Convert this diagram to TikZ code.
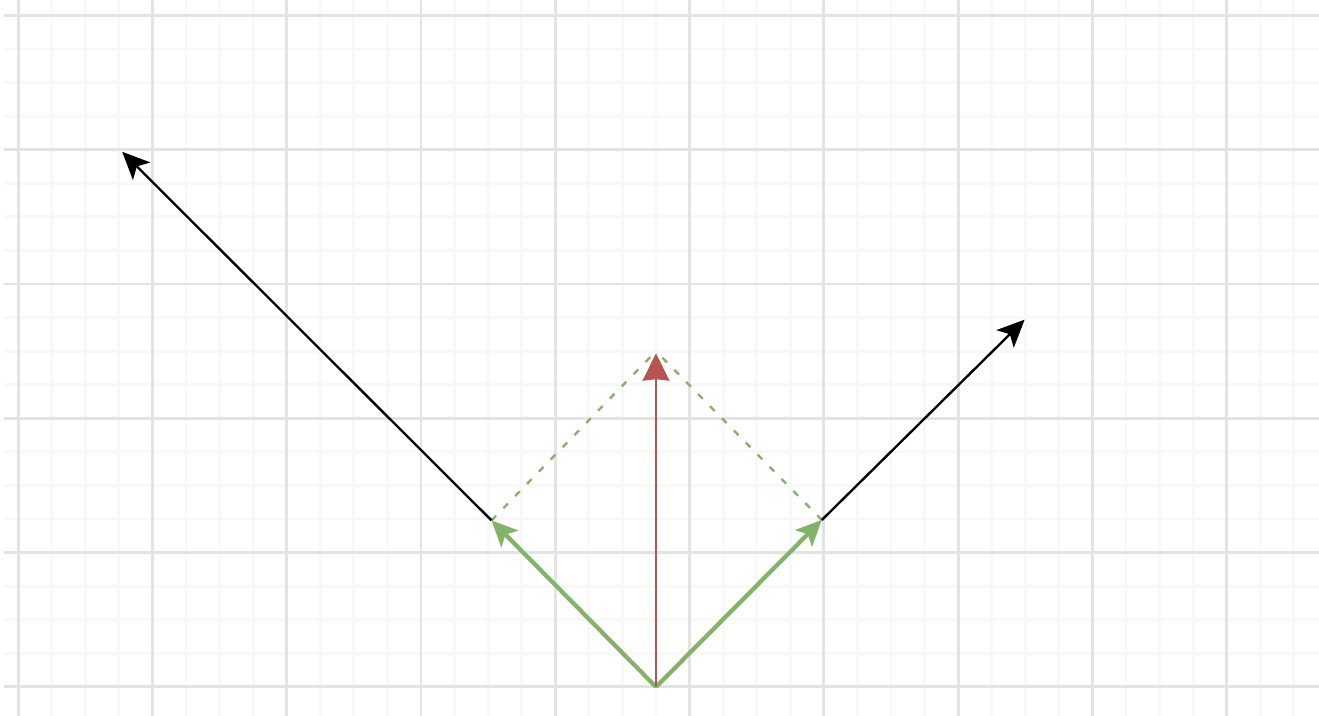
\documentclass[tikz,border=0pt]{standalone}
\usetikzlibrary{arrows.meta}
\definecolor{gmajor}{HTML}{E3E3E3}
\definecolor{gminor}{HTML}{F8F8F8}
\definecolor{vgreen}{HTML}{82B366}
\definecolor{vred}{HTML}{B85450}
\tikzset{
  minorline/.style={draw=gminor, line width=0.6pt},
  majorline/.style={draw=gmajor, line width=0.6pt},
  greenvec/.style={draw=vgreen, line width=0.9pt, -{Stealth[length=5.5pt,width=5pt,inset=1.3pt]}},
  blackvec/.style={draw=black, line width=0.5pt, -{Stealth[length=5.8pt,width=5.2pt,inset=1.4pt]}},
  redvec/.style={draw=vred, line width=0.6pt, -{Stealth[length=5.8pt,width=5.6pt,inset=0.3pt]}},
  sumline/.style={draw=vgreen, line width=0.5pt, dash pattern=on 1.4pt off 2.2pt}
}
\begin{document}
\begin{tikzpicture}[x=1cm,y=1cm]
\useasboundingbox (-4.885,-0.216) rectangle (4.937,5.115);
% minor grid
\foreach \i in {0,...,38} {
  \pgfmathsetmacro{\xx}{-4.75+0.25*\i}
  \path[minorline] (\xx,-0.216) -- (\xx,5.115);
}
\foreach \j in {0,...,20} {
  \pgfmathsetmacro{\yy}{0.25*\j}
  \path[minorline] (-4.855,\yy) -- (4.937,\yy);
}
% major grid
\foreach \xx in {-4.75,-3.75,...,4.25} {
  \path[majorline] (\xx,-0.216) -- (\xx,5.115);
}
\foreach \yy in {0,...,5} {
  \path[majorline] (-4.855,\yy) -- (4.937,\yy);
}
% points
\coordinate (O) at (0,0);
\coordinate (L) at (-1.225,1.24);
\coordinate (R) at (1.235,1.243);
\coordinate (T) at (0,2.5);
\coordinate (RT) at (0,2.485);
\coordinate (LF) at (-3.975,3.985);
\coordinate (RF) at (2.745,2.735);
% dashed completion
\path[sumline] (L) -- (T);
\path[sumline] (R) -- (T);
% black continuations
\path[blackvec] (L) -- (LF);
\path[blackvec] (R) -- (RF);
% green vectors
\path[greenvec] (O) -- (L);
\path[greenvec] (O) -- (R);
% red sum
\path[redvec] (O) -- (RT);
\end{tikzpicture}
\end{document}
